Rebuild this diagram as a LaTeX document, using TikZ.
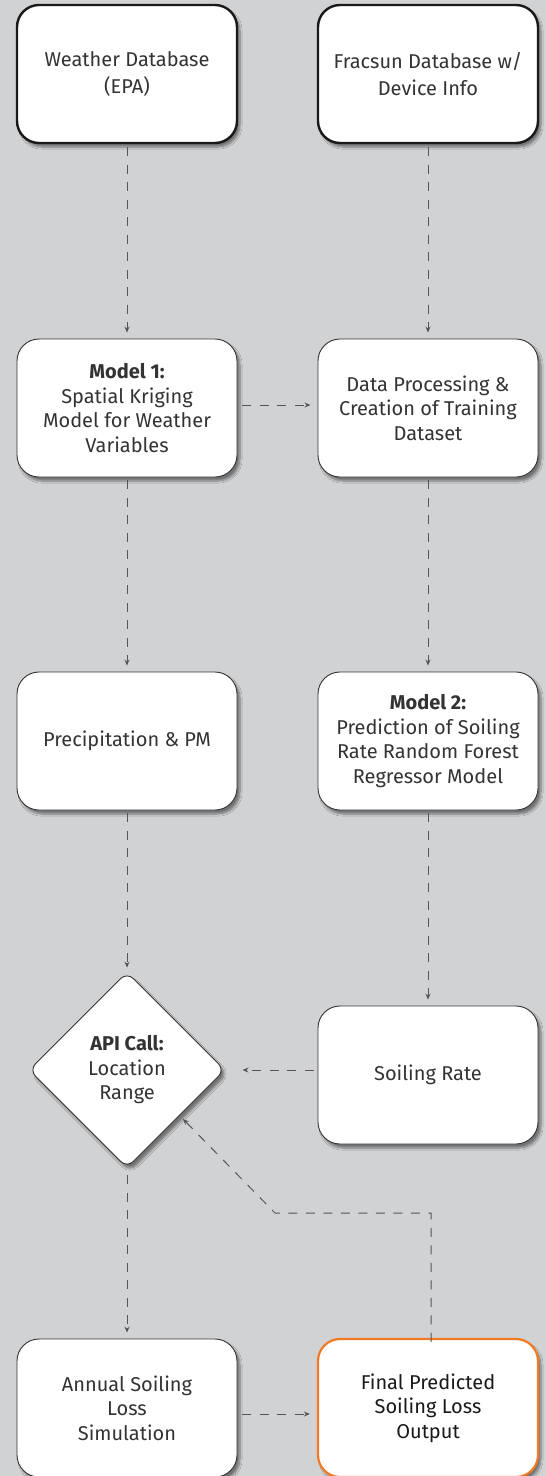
\documentclass[tikz,border=0pt]{standalone}
\usepackage{fontspec}
\setmainfont{Fira Sans}
\usetikzlibrary{shapes.geometric,arrows.meta,shadows.blur,calc}
\definecolor{bg}{HTML}{D1D2D4}
\definecolor{txt}{HTML}{333333}
\definecolor{edge}{HTML}{333333}
\definecolor{orng}{HTML}{F47A22}
\definecolor{dash}{HTML}{555555}
\begin{document}
\begin{tikzpicture}[x=1pt,y=-1pt,
  base/.style={fill=white, text=txt, align=center, font=\fontsize{20}{24.5}\selectfont,
    blur shadow={shadow xshift=3pt, shadow yshift=-4pt, shadow blur steps=8, shadow opacity=45}},
  box/.style={base, rectangle, rounded corners=22pt, minimum width=220pt, minimum height=138pt,
    draw=edge, line width=0.9pt, inner sep=0pt},
  topbox/.style={box, draw=black!90, line width=2.4pt, font=\fontsize{20}{27.5}\selectfont},
  finbox/.style={box, draw=orng, line width=2.2pt, text=black!90},
  dec/.style={base, diamond, aspect=1, minimum width=196pt, minimum height=196pt,
    draw=edge, line width=0.9pt, rounded corners=9pt, inner sep=0pt},
  dasharrow/.style={draw=dash, line width=1pt, dash pattern=on 9pt off 8.5pt,
    -{Stealth[length=6pt,width=5pt]}},
]
\fill[bg] (0,0) rectangle (546,1476);
\useasboundingbox (0,0) rectangle (546,1476);

\node[topbox] (wdb) at (127,74) {Weather Database\\(EPA)};
\node[topbox] (fdb) at (428,74) {Fracsun Database w/\\Device Info};
\node[box] (m1) at (127,408) {\textbf{Model 1:}\\Spatial Kriging\\Model for Weather\\Variables};
\node[box] (dp) at (428,408) {Data Processing \&\\Creation of Training\\Dataset};
\node[box] (pp) at (127,741) {Precipitation \& PM};
\node[box] (m2) at (428,741) {\textbf{Model 2:}\\Prediction of Soiling\\Rate Random Forest\\Regressor Model};
\node[dec] (api) at (127,1070) {\textbf{API Call:}\\Location\\Range};
\node[box] (sr) at (428,1075) {Soiling Rate};
\node[box] (asl) at (127,1408) {Annual Soiling\\Loss\\Simulation};
\node[finbox] (fin) at (428,1408) {Final Predicted\\Soiling Loss\\Output};

\coordinate (fbk) at (275,1213);
\coordinate (fbt) at (183,1119);

\draw[dasharrow] ([yshift=-3pt]wdb.south) -- ([yshift=6pt]m1.north);
\draw[dasharrow] ([yshift=-3pt]fdb.south) -- ([yshift=6pt]dp.north);
\draw[dasharrow] ([xshift=5pt,yshift=3pt]m1.east) -- ([xshift=-7pt,yshift=3pt]dp.west);
\draw[dasharrow] ([yshift=-3pt]m1.south) -- ([yshift=6pt]pp.north);
\draw[dasharrow] ([yshift=-3pt]dp.south) -- ([yshift=6pt]m2.north);
\draw[dasharrow] ([yshift=-3pt]pp.south) -- ([yshift=4pt]api.north);
\draw[dasharrow] ([yshift=-3pt]m2.south) -- ([yshift=6pt]sr.north);
\draw[dasharrow] ([xshift=-4pt]sr.west |- api.east) -- ([xshift=17pt]api.east);
\draw[dasharrow] ([yshift=-7pt]api.south) -- ([yshift=6pt]asl.north);
\draw[dasharrow] ([xshift=5pt,yshift=-6pt]asl.east) -- ([xshift=-7pt,yshift=-6pt]fin.west);
\draw[dasharrow] ([xshift=3pt,yshift=-4pt]fin.north) -- ([xshift=3pt]fin.north |- fbk) -- (fbk) -- (fbt);
\end{tikzpicture}
\end{document}
